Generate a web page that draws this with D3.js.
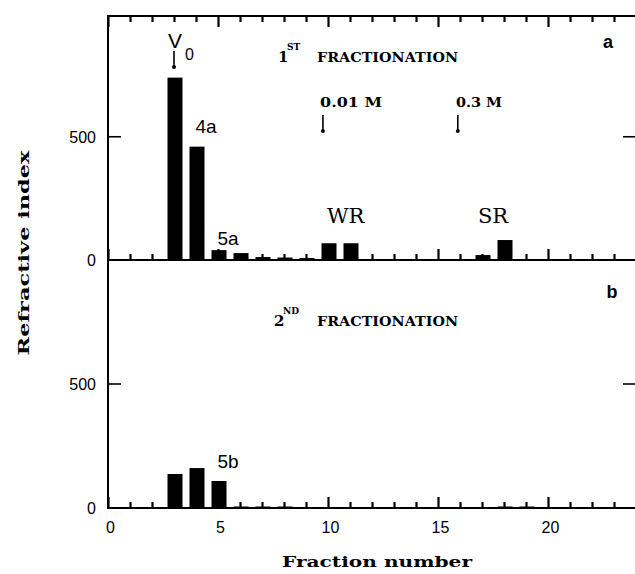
<!DOCTYPE html>
<html><head><meta charset="utf-8">
<script src="https://cdn.jsdelivr.net/npm/d3@7"></script>
<style>body{margin:0;background:#fff}svg{display:block}</style>
</head><body>
<svg id="c" width="635" height="574"></svg>
<script>
// ---- data ----
const fractions = [3,4,5,6,7,8,9,10,11,17,18];
const valuesA   = [740,460,40,28,12,10,8,68,68,20,81];
const fractionsB = [3,4,5,6,7,8,18,19];
const valuesB    = [137,161,109,6,6,6,6,6];
const xTicks = [0,5,10,15,20];
const yTicks = [0,500];
const peakLabelsA = [{t:"4a",f:4,v:515},{t:"5a",f:5,v:60},{t:"WR",f:10.8,v:150},{t:"SR",f:17.5,v:150}];
const peakLabelsB = [{t:"5b",f:5,v:162}];
const arrowsA = [{f:3,v:848},{f:9.77,v:588},{f:15.9,v:588}];
const conc = [{t:"0.01 M",f:9.64,w:62},{t:"0.3 M",f:15.82,w:46}];

const svg = d3.select("#c");
const x = d3.scaleLinear().domain([0,24]).range([108,636]);
const yA = d3.scaleLinear().domain([0,990]).range([260,16]);
const yB = d3.scaleLinear().domain([0,1000]).range([508,260]);
const bw = 15;
const serif = "'DejaVu Serif', serif";
const sans = "'Liberation Sans', Arial, sans-serif";
const allT = d3.range(0,25);

function ln(x1,y1,x2,y2,w){svg.append("line").attr("x1",x1).attr("y1",y1).attr("x2",x2).attr("y2",y2).attr("stroke","#000").attr("stroke-width",w||2);}

// frame lines
ln(x(0),16,x(24),16);
ln(x(0),yA(0),x(24),yA(0));
ln(x(0),yB(0),x(24),yB(0));
ln(x(0),15,x(0),yB(0)+1);
ln(x(24),16,x(24),yB(0));

// bars
function bars(fs, vs, y){
  svg.append("g").selectAll("rect").data(fs.map((f,i)=>({f,v:vs[i]}))).join("rect")
    .attr("x",d=>x(d.f)-bw/2+1).attr("width",bw)
    .attr("y",d=>y(d.v)).attr("height",d=>y(0)-y(d.v)).attr("fill","#000");
}
bars(fractions, valuesA, yA);
bars(fractionsB, valuesB, yB);

// y axes
[yA,yB].forEach(y=>{
  const g = svg.append("g").attr("transform",`translate(${x(0)},0)`)
    .call(d3.axisLeft(y).tickValues(yTicks).tickSize(0).tickPadding(12));
  g.select(".domain").remove();
  g.selectAll("text").attr("font-family",sans).attr("font-size",16).attr("fill","#000").attr("dy","0.35em");
  yTicks.filter(t=>t>0).forEach(t=>{
    ln(x(0),y(t),x(0)+13,y(t),1.6);
    ln(x(24)-13,y(t),x(24),y(t),1.6);
  });
});

// x tick labels
{
  const g = svg.append("g").attr("transform",`translate(2,${yB(0)})`)
    .call(d3.axisBottom(x).tickValues(xTicks).tickSize(0).tickPadding(14));
  g.select(".domain").remove();
  g.selectAll("text").attr("font-family",sans).attr("font-size",16).attr("fill","#000");
}

// axis titles
svg.append("text").attr("x",377).attr("y",567).attr("text-anchor","middle")
  .attr("font-family",serif).attr("font-weight","bold").attr("font-size",14)
  .attr("textLength",190).attr("lengthAdjust","spacingAndGlyphs").text("Fraction number");
svg.append("text").attr("transform","translate(29,253) rotate(-90)").attr("text-anchor","middle")
  .attr("font-family",serif).attr("font-weight","bold").attr("font-size",14)
  .attr("textLength",205).attr("lengthAdjust","spacingAndGlyphs").text("Refractive index");

// panel letters
svg.append("text").attr("x",608).attr("y",48).attr("text-anchor","middle")
  .attr("font-family",sans).attr("font-weight","bold").attr("font-size",18).text("a");
svg.append("text").attr("x",612).attr("y",298).attr("text-anchor","middle")
  .attr("font-family",sans).attr("font-weight","bold").attr("font-size",18).text("b");

// fractionation titles
function frac(x0, yb, num, sup){
  svg.append("text").attr("x",x0).attr("y",yb).attr("font-family",serif).attr("font-weight","bold")
    .attr("font-size",15).text(num);
  svg.append("text").attr("x",x0+9).attr("y",yb-12).attr("font-family",serif).attr("font-weight","bold")
    .attr("font-size",9).text(sup);
  svg.append("text").attr("x",317).attr("y",yb).attr("font-family",serif).attr("font-weight","bold")
    .attr("font-size",13).attr("textLength",141).attr("lengthAdjust","spacingAndGlyphs").text("FRACTIONATION");
}
frac(278,62,"1","ST");
frac(274,326,"2","ND");

// V0
svg.append("text").attr("x",x(3)+1).attr("y",48).attr("text-anchor","middle")
  .attr("font-family",sans).attr("font-size",21).text("V");
svg.append("text").attr("x",185).attr("y",60).attr("font-family",sans).attr("font-size",16).text("0");

// arrows
arrowsA.forEach(a=>{
  const yy = yA(a.v);
  ln(x(a.f),yy,x(a.f),yy+16,1.6);
  svg.append("circle").attr("cx",x(a.f)).attr("cy",yy+16).attr("r",2).attr("fill","#000");
});
conc.forEach(c=>{
  svg.append("text").attr("x",x(c.f)).attr("y",107).attr("font-family",serif).attr("font-weight","bold")
    .attr("font-size",13).attr("textLength",c.w).attr("lengthAdjust","spacingAndGlyphs").text(c.t);
});

// peak labels
function pl(arr,y){
  arr.forEach(p=>{
    const isSerif = (p.t==="WR"||p.t==="SR");
    svg.append("text").attr("x",x(p.f)+(isSerif?0:10)).attr("y",y(p.v))
      .attr("text-anchor","middle").attr("font-family",isSerif?serif:sans)
      .attr("font-size",isSerif?21:19).text(p.t);
  });
}
pl(peakLabelsA,yA);
pl(peakLabelsB,yB);

// inward x ticks (drawn last, via d3 axes)
[{y:16,down:true},{y:260,down:false},{y:508,down:false}].forEach(r=>{
  const ax = (r.down ? d3.axisBottom(x) : d3.axisTop(x)).tickValues(allT).tickSizeInner(6).tickSizeOuter(0).tickFormat(()=>"");
  const g = svg.append("g").attr("class","xt").attr("transform",`translate(0,${r.y})`).call(ax);
  g.select(".domain").remove();
  g.selectAll(".tick line")
    .attr("stroke","#000").attr("stroke-width",2.2)
    .attr("y2",d=>(r.down?1:-1)*(d%5===0?11:6));
});
</script>
</body></html>
